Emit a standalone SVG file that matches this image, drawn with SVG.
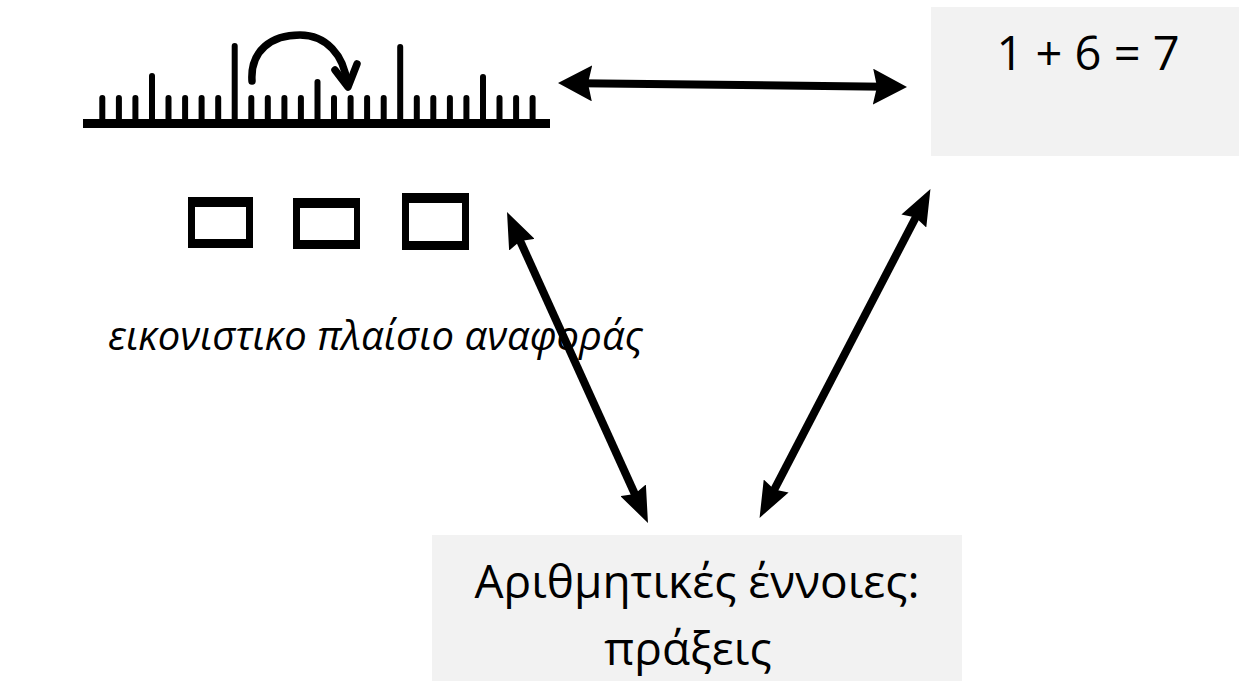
<svg xmlns="http://www.w3.org/2000/svg" width="1239" height="681" viewBox="0 0 1239 681">
  <style>
    .box { fill: #f2f2f2; }
    .lbl { font-family: "Open Sans", "Noto Sans", "DejaVu Sans", sans-serif; fill: #000; }
    .ink { fill: none; stroke: #000; stroke-width: 7.5; stroke-linecap: round; stroke-linejoin: round; }
    .tick { stroke: #000; stroke-width: 6; stroke-linecap: round; }
    .counter { fill: #000; fill-rule: evenodd; }
    .conn { stroke: #000; stroke-width: 8; fill: none; }
    .flat { marker-start: url(#head-wide); marker-end: url(#head-wide); }
    .slant { marker-start: url(#head-long); marker-end: url(#head-long); }
  </style>
  <defs>
    <marker id="head-wide" markerUnits="userSpaceOnUse" viewBox="0 0 34 36" markerWidth="34" markerHeight="36" refX="12" refY="18" orient="auto-start-reverse">
      <path d="M0,0 L34,18 L0,36 L4,18 Z" fill="#000"/>
    </marker>
    <marker id="head-long" markerUnits="userSpaceOnUse" viewBox="0 0 36 28" markerWidth="36" markerHeight="28" refX="14" refY="14" orient="auto-start-reverse">
      <path d="M0,0 L36,14 L0,28 L4,14 Z" fill="#000"/>
    </marker>
  </defs>

  <rect width="1239" height="681" fill="#fff"/>

  <!-- number line with a jump arrow -->
  <g id="number-line">
    <rect x="83" y="119" width="467" height="9" fill="#000"/>
    <g>
      <line class="tick" x1="102.3" y1="121" x2="102.3" y2="98"/>
      <line class="tick" x1="118.9" y1="121" x2="118.9" y2="98"/>
      <line class="tick" x1="135.4" y1="121" x2="135.4" y2="98"/>
      <line class="tick" x1="152.0" y1="121" x2="152.0" y2="76"/>
      <line class="tick" x1="168.5" y1="121" x2="168.5" y2="98"/>
      <line class="tick" x1="185.1" y1="121" x2="185.1" y2="98"/>
      <line class="tick" x1="201.6" y1="121" x2="201.6" y2="98"/>
      <line class="tick" x1="218.2" y1="121" x2="218.2" y2="98"/>
      <line class="tick" x1="234.7" y1="121" x2="234.7" y2="46"/>
      <line class="tick" x1="251.3" y1="121" x2="251.3" y2="98"/>
      <line class="tick" x1="267.8" y1="121" x2="267.8" y2="98"/>
      <line class="tick" x1="284.4" y1="121" x2="284.4" y2="98"/>
      <line class="tick" x1="300.9" y1="121" x2="300.9" y2="98"/>
      <line class="tick" x1="317.5" y1="121" x2="317.5" y2="82"/>
      <line class="tick" x1="334.0" y1="121" x2="334.0" y2="98"/>
      <line class="tick" x1="350.6" y1="121" x2="350.6" y2="98"/>
      <line class="tick" x1="367.1" y1="121" x2="367.1" y2="98"/>
      <line class="tick" x1="383.7" y1="121" x2="383.7" y2="98"/>
      <line class="tick" x1="400.2" y1="121" x2="400.2" y2="47"/>
      <line class="tick" x1="416.8" y1="121" x2="416.8" y2="98"/>
      <line class="tick" x1="433.3" y1="121" x2="433.3" y2="98"/>
      <line class="tick" x1="449.9" y1="121" x2="449.9" y2="98"/>
      <line class="tick" x1="466.4" y1="121" x2="466.4" y2="98"/>
      <line class="tick" x1="483.0" y1="121" x2="483.0" y2="77"/>
      <line class="tick" x1="499.5" y1="121" x2="499.5" y2="98"/>
      <line class="tick" x1="516.1" y1="121" x2="516.1" y2="98"/>
      <line class="tick" x1="532.6" y1="121" x2="532.6" y2="98"/>
    </g>
    <path class="ink" d="M252,81 C250,50 272,35 300,35 C326,35 344,55 347,83"/>
    <path class="ink" d="M335,70 L348,87 L357,64"/>
  </g>

  <!-- three counters -->
  <g id="counters">
    <path class="counter" d="M188,197 H253 V248 H188 Z M195,207 V239 H246 V207 Z"/>
    <path class="counter" d="M293,198 H360 V249 H293 Z M300,208 V240 H354 V208 Z"/>
    <path class="counter" d="M402,193 H469 V250 H402 Z M409,203 V241 H462 V203 Z"/>
  </g>

  <g id="frame-label">
    <text class="lbl" x="108" y="350" font-size="40" font-style="italic">εικονιστικο πλαίσιο αναφοράς</text>
  </g>

  <g id="equation">
    <rect class="box" x="931" y="7" width="308" height="149"/>
    <text class="lbl" x="1088" y="70" font-size="47" text-anchor="middle">1 + 6 = 7</text>
  </g>

  <g id="concepts">
    <rect class="box" x="432" y="535" width="530" height="146"/>
    <text class="lbl" x="697" y="598" font-size="46" text-anchor="middle">Αριθμητικές έννοιες:</text>
    <text class="lbl" x="688" y="665" font-size="46" text-anchor="middle">πράξεις</text>
  </g>

  <!-- two-way links -->
  <g id="connectors">
    <line class="conn flat" x1="580" y1="83.2" x2="885" y2="86.8"/>
    <line class="conn slant" x1="516.1" y1="232" x2="638.9" y2="503"/>
    <line class="conn slant" x1="920.3" y1="208.6" x2="769.7" y2="498.4"/>
  </g>
</svg>
